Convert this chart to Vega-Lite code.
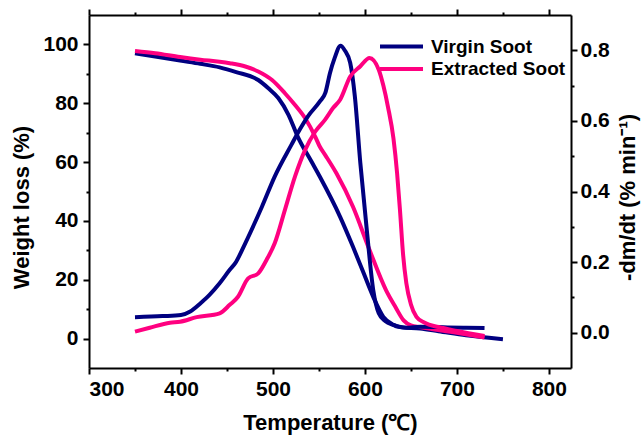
{
  "$schema": "https://vega.github.io/schema/vega-lite/v6.json",
  "width": 482,
  "height": 353,
  "autosize": "none",
  "padding": {"left": 89, "top": 15, "right": 70, "bottom": 73},
  "config": {
    "view": {"stroke": null},
    "font": "Liberation Sans",
    "axis": {
      "grid": false,
      "domainColor": "#000000",
      "domainWidth": 2,
      "tickColor": "#000000",
      "tickWidth": 2,
      "tickSize": 6,
      "labelFont": "Liberation Sans",
      "labelFontWeight": "bold",
      "labelFontSize": 21,
      "labelColor": "#000000",
      "titleFont": "Liberation Sans",
      "titleFontWeight": "bold",
      "titleFontSize": 22,
      "titleColor": "#000000"
    }
  },
  "data": {
    "values": [
      {"sample": "Virgin Soot", "curve": "TG", "T": 350, "value": 97.0},
      {"sample": "Virgin Soot", "curve": "TG", "T": 372, "value": 95.9},
      {"sample": "Virgin Soot", "curve": "TG", "T": 399, "value": 94.5},
      {"sample": "Virgin Soot", "curve": "TG", "T": 421, "value": 93.4},
      {"sample": "Virgin Soot", "curve": "TG", "T": 442, "value": 92.2},
      {"sample": "Virgin Soot", "curve": "TG", "T": 460, "value": 90.6},
      {"sample": "Virgin Soot", "curve": "TG", "T": 484, "value": 87.9},
      {"sample": "Virgin Soot", "curve": "TG", "T": 495, "value": 85.1},
      {"sample": "Virgin Soot", "curve": "TG", "T": 506, "value": 81.7},
      {"sample": "Virgin Soot", "curve": "TG", "T": 517, "value": 76.0},
      {"sample": "Virgin Soot", "curve": "TG", "T": 527, "value": 68.6},
      {"sample": "Virgin Soot", "curve": "TG", "T": 542, "value": 60.1},
      {"sample": "Virgin Soot", "curve": "TG", "T": 551, "value": 55.0},
      {"sample": "Virgin Soot", "curve": "TG", "T": 573, "value": 41.4},
      {"sample": "Virgin Soot", "curve": "TG", "T": 587, "value": 31.2},
      {"sample": "Virgin Soot", "curve": "TG", "T": 598, "value": 22.7},
      {"sample": "Virgin Soot", "curve": "TG", "T": 609, "value": 14.2},
      {"sample": "Virgin Soot", "curve": "TG", "T": 620, "value": 7.4},
      {"sample": "Virgin Soot", "curve": "TG", "T": 630, "value": 4.8},
      {"sample": "Virgin Soot", "curve": "TG", "T": 638, "value": 3.9},
      {"sample": "Virgin Soot", "curve": "TG", "T": 660, "value": 3.4},
      {"sample": "Virgin Soot", "curve": "TG", "T": 680, "value": 2.5},
      {"sample": "Virgin Soot", "curve": "TG", "T": 710, "value": 1.1},
      {"sample": "Virgin Soot", "curve": "TG", "T": 750, "value": -0.2},
      {"sample": "Extracted Soot", "curve": "TG", "T": 350, "value": 97.8},
      {"sample": "Extracted Soot", "curve": "TG", "T": 372, "value": 97.0},
      {"sample": "Extracted Soot", "curve": "TG", "T": 399, "value": 95.7},
      {"sample": "Extracted Soot", "curve": "TG", "T": 421, "value": 94.8},
      {"sample": "Extracted Soot", "curve": "TG", "T": 442, "value": 94.1},
      {"sample": "Extracted Soot", "curve": "TG", "T": 453, "value": 93.6},
      {"sample": "Extracted Soot", "curve": "TG", "T": 470, "value": 92.5},
      {"sample": "Extracted Soot", "curve": "TG", "T": 484, "value": 90.8},
      {"sample": "Extracted Soot", "curve": "TG", "T": 499, "value": 87.9},
      {"sample": "Extracted Soot", "curve": "TG", "T": 513, "value": 83.4},
      {"sample": "Extracted Soot", "curve": "TG", "T": 524, "value": 79.4},
      {"sample": "Extracted Soot", "curve": "TG", "T": 535, "value": 74.9},
      {"sample": "Extracted Soot", "curve": "TG", "T": 546, "value": 68.6},
      {"sample": "Extracted Soot", "curve": "TG", "T": 551, "value": 65.2},
      {"sample": "Extracted Soot", "curve": "TG", "T": 557, "value": 62.3},
      {"sample": "Extracted Soot", "curve": "TG", "T": 569, "value": 56.2},
      {"sample": "Extracted Soot", "curve": "TG", "T": 587, "value": 44.8},
      {"sample": "Extracted Soot", "curve": "TG", "T": 605, "value": 30.1},
      {"sample": "Extracted Soot", "curve": "TG", "T": 623, "value": 16.4},
      {"sample": "Extracted Soot", "curve": "TG", "T": 633, "value": 10.8},
      {"sample": "Extracted Soot", "curve": "TG", "T": 642, "value": 6.2},
      {"sample": "Extracted Soot", "curve": "TG", "T": 650, "value": 4.5},
      {"sample": "Extracted Soot", "curve": "TG", "T": 660, "value": 3.9},
      {"sample": "Extracted Soot", "curve": "TG", "T": 700, "value": 2.0},
      {"sample": "Extracted Soot", "curve": "TG", "T": 730, "value": 0.4},
      {"sample": "Virgin Soot", "curve": "DTG", "T": 350, "value": 0.044},
      {"sample": "Virgin Soot", "curve": "DTG", "T": 380, "value": 0.047},
      {"sample": "Virgin Soot", "curve": "DTG", "T": 400, "value": 0.050},
      {"sample": "Virgin Soot", "curve": "DTG", "T": 410, "value": 0.060},
      {"sample": "Virgin Soot", "curve": "DTG", "T": 421, "value": 0.083},
      {"sample": "Virgin Soot", "curve": "DTG", "T": 431, "value": 0.107},
      {"sample": "Virgin Soot", "curve": "DTG", "T": 442, "value": 0.140},
      {"sample": "Virgin Soot", "curve": "DTG", "T": 453, "value": 0.178},
      {"sample": "Virgin Soot", "curve": "DTG", "T": 459, "value": 0.197},
      {"sample": "Virgin Soot", "curve": "DTG", "T": 470, "value": 0.254},
      {"sample": "Virgin Soot", "curve": "DTG", "T": 488, "value": 0.357},
      {"sample": "Virgin Soot", "curve": "DTG", "T": 502, "value": 0.443},
      {"sample": "Virgin Soot", "curve": "DTG", "T": 520, "value": 0.532},
      {"sample": "Virgin Soot", "curve": "DTG", "T": 529, "value": 0.575},
      {"sample": "Virgin Soot", "curve": "DTG", "T": 538, "value": 0.613},
      {"sample": "Virgin Soot", "curve": "DTG", "T": 551, "value": 0.655},
      {"sample": "Virgin Soot", "curve": "DTG", "T": 557, "value": 0.680},
      {"sample": "Virgin Soot", "curve": "DTG", "T": 562, "value": 0.736},
      {"sample": "Virgin Soot", "curve": "DTG", "T": 567, "value": 0.778},
      {"sample": "Virgin Soot", "curve": "DTG", "T": 573.5, "value": 0.813},
      {"sample": "Virgin Soot", "curve": "DTG", "T": 578, "value": 0.800},
      {"sample": "Virgin Soot", "curve": "DTG", "T": 584, "value": 0.764},
      {"sample": "Virgin Soot", "curve": "DTG", "T": 589, "value": 0.670},
      {"sample": "Virgin Soot", "curve": "DTG", "T": 595, "value": 0.480},
      {"sample": "Virgin Soot", "curve": "DTG", "T": 602, "value": 0.291},
      {"sample": "Virgin Soot", "curve": "DTG", "T": 609, "value": 0.121},
      {"sample": "Virgin Soot", "curve": "DTG", "T": 615, "value": 0.055},
      {"sample": "Virgin Soot", "curve": "DTG", "T": 622, "value": 0.033},
      {"sample": "Virgin Soot", "curve": "DTG", "T": 631, "value": 0.022},
      {"sample": "Virgin Soot", "curve": "DTG", "T": 645, "value": 0.014},
      {"sample": "Virgin Soot", "curve": "DTG", "T": 660, "value": 0.017},
      {"sample": "Virgin Soot", "curve": "DTG", "T": 690, "value": 0.015},
      {"sample": "Virgin Soot", "curve": "DTG", "T": 710, "value": 0.014},
      {"sample": "Virgin Soot", "curve": "DTG", "T": 730, "value": 0.013},
      {"sample": "Extracted Soot", "curve": "DTG", "T": 350, "value": 0.003},
      {"sample": "Extracted Soot", "curve": "DTG", "T": 366, "value": 0.014},
      {"sample": "Extracted Soot", "curve": "DTG", "T": 388, "value": 0.028},
      {"sample": "Extracted Soot", "curve": "DTG", "T": 399, "value": 0.031},
      {"sample": "Extracted Soot", "curve": "DTG", "T": 417, "value": 0.044},
      {"sample": "Extracted Soot", "curve": "DTG", "T": 442, "value": 0.055},
      {"sample": "Extracted Soot", "curve": "DTG", "T": 453, "value": 0.079},
      {"sample": "Extracted Soot", "curve": "DTG", "T": 462, "value": 0.102},
      {"sample": "Extracted Soot", "curve": "DTG", "T": 473, "value": 0.154},
      {"sample": "Extracted Soot", "curve": "DTG", "T": 484, "value": 0.168},
      {"sample": "Extracted Soot", "curve": "DTG", "T": 493, "value": 0.206},
      {"sample": "Extracted Soot", "curve": "DTG", "T": 502, "value": 0.254},
      {"sample": "Extracted Soot", "curve": "DTG", "T": 513, "value": 0.348},
      {"sample": "Extracted Soot", "curve": "DTG", "T": 524, "value": 0.443},
      {"sample": "Extracted Soot", "curve": "DTG", "T": 535, "value": 0.518},
      {"sample": "Extracted Soot", "curve": "DTG", "T": 546, "value": 0.570},
      {"sample": "Extracted Soot", "curve": "DTG", "T": 556.5, "value": 0.603},
      {"sample": "Extracted Soot", "curve": "DTG", "T": 565.5, "value": 0.637},
      {"sample": "Extracted Soot", "curve": "DTG", "T": 573, "value": 0.660},
      {"sample": "Extracted Soot", "curve": "DTG", "T": 584, "value": 0.726},
      {"sample": "Extracted Soot", "curve": "DTG", "T": 595, "value": 0.755},
      {"sample": "Extracted Soot", "curve": "DTG", "T": 605, "value": 0.778},
      {"sample": "Extracted Soot", "curve": "DTG", "T": 615, "value": 0.745},
      {"sample": "Extracted Soot", "curve": "DTG", "T": 620, "value": 0.700},
      {"sample": "Extracted Soot", "curve": "DTG", "T": 625, "value": 0.640},
      {"sample": "Extracted Soot", "curve": "DTG", "T": 631, "value": 0.550},
      {"sample": "Extracted Soot", "curve": "DTG", "T": 635, "value": 0.450},
      {"sample": "Extracted Soot", "curve": "DTG", "T": 638, "value": 0.350},
      {"sample": "Extracted Soot", "curve": "DTG", "T": 641.5, "value": 0.220},
      {"sample": "Extracted Soot", "curve": "DTG", "T": 645, "value": 0.140},
      {"sample": "Extracted Soot", "curve": "DTG", "T": 650, "value": 0.080},
      {"sample": "Extracted Soot", "curve": "DTG", "T": 656, "value": 0.045},
      {"sample": "Extracted Soot", "curve": "DTG", "T": 665, "value": 0.028},
      {"sample": "Extracted Soot", "curve": "DTG", "T": 680, "value": 0.016},
      {"sample": "Extracted Soot", "curve": "DTG", "T": 700, "value": 0.005},
      {"sample": "Extracted Soot", "curve": "DTG", "T": 730, "value": -0.009}
    ]
  },
  "layer": [
    {
      "transform": [{"filter": "datum.curve === 'TG'"}],
      "mark": {"type": "line", "strokeWidth": 4, "interpolate": "monotone"},
      "encoding": {
        "x": {
          "field": "T", "type": "quantitative",
          "scale": {"domain": [300, 824], "nice": false, "zero": false},
          "axis": {
            "orient": "bottom",
            "title": "Temperature (℃)",
            "values": [300, 350, 400, 450, 500, 550, 600, 650, 700, 750, 800],
            "labelExpr": "datum.value % 100 === 0 ? datum.label : ''",
            "labelPadding": 4,
            "titlePadding": 13,
            "encoding": {"ticks": {"y2": {"condition": {"test": "datum.value % 100 === 0", "value": 6}, "value": 3}}}
          }
        },
        "y": {
          "field": "value", "type": "quantitative",
          "scale": {"domain": [-10, 110], "nice": false, "zero": false},
          "axis": {
            "orient": "left",
            "title": "Weight loss (%)",
            "values": [0, 10, 20, 30, 40, 50, 60, 70, 80, 90, 100],
            "labelExpr": "datum.value % 20 === 0 ? datum.label : ''",
            "labelPadding": 5,
            "titlePadding": 9,
            "titleY": 192,
            "encoding": {"ticks": {"x2": {"condition": {"test": "datum.value % 20 === 0", "value": -6}, "value": -3}}}
          }
        },
        "color": {
          "field": "sample", "type": "nominal",
          "scale": {"domain": ["Virgin Soot", "Extracted Soot"], "range": ["#000080", "#ff0080"]},
          "legend": {
            "title": null,
            "orient": "none",
            "legendX": 289,
            "legendY": 21,
            "symbolType": "stroke",
            "symbolSize": 1849,
            "symbolStrokeWidth": 4,
            "clipHeight": 21,
            "labelFont": "Liberation Sans",
            "labelFontWeight": "bold",
            "labelFontSize": 19,
            "labelColor": "#000000",
            "labelOffset": 6,
            "rowPadding": 1.6
          }
        }
      }
    },
    {
      "transform": [{"filter": "datum.curve === 'DTG'"}],
      "mark": {"type": "line", "strokeWidth": 4, "interpolate": "monotone"},
      "encoding": {
        "x": {
          "field": "T", "type": "quantitative",
          "axis": {
            "orient": "top",
            "title": null,
            "labels": false,
            "values": [300, 350, 400, 450, 500, 550, 600, 650, 700, 750, 800],
            "encoding": {"ticks": {"y2": {"condition": {"test": "datum.value % 100 === 0", "value": -6}, "value": -3}}}
          }
        },
        "y": {
          "field": "value", "type": "quantitative",
          "scale": {"domain": [-0.1, 0.9], "nice": false, "zero": false},
          "axis": {
            "orient": "right",
            "title": "-dm/dt (% min⁻¹)",
            "titleAngle": -90,
            "titleBaseline": "top",
            "values": [0, 0.1, 0.2, 0.3, 0.4, 0.5, 0.6, 0.7, 0.8],
            "labelExpr": "round(datum.value * 10) % 2 === 0 ? format(datum.value, '.1f') : ''",
            "labelPadding": 3,
            "titlePadding": 8,
            "titleY": 182,
            "encoding": {"ticks": {"x2": {"condition": {"test": "round(datum.value * 10) % 2 === 0", "value": 6}, "value": 3}}}
          }
        },
        "color": {"field": "sample", "type": "nominal", "legend": null}
      }
    }
  ],
  "resolve": {"scale": {"y": "independent"}, "axis": {"x": "independent"}}
}
